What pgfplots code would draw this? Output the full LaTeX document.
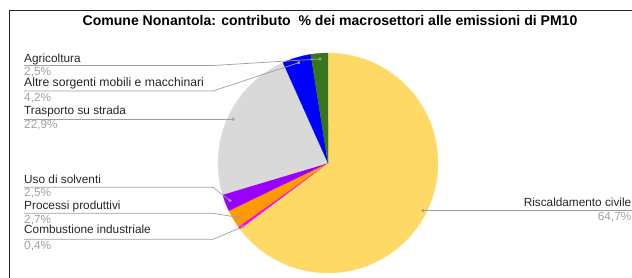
\documentclass[border=0pt]{standalone}
\usepackage{fontspec}
\setmainfont{Liberation Sans}
\usepackage{pgfplots}
\pgfplotsset{compat=1.18}
\definecolor{cYel}{HTML}{FFD966}
\definecolor{cMag}{HTML}{FF00FF}
\definecolor{cOra}{HTML}{FF9900}
\definecolor{cPur}{HTML}{9900FF}
\definecolor{cGry}{HTML}{D9D9D9}
\definecolor{cBlu}{HTML}{0000FF}
\definecolor{cGrn}{HTML}{38761D}
\definecolor{cLine}{HTML}{9E9E9E}
\definecolor{cPct}{HTML}{A0A0A0}
% values (%)
\def\vA{64.7}% Riscaldamento civile
\def\vB{0.4}%  Combustione industriale
\def\vC{2.7}%  Processi produttivi
\def\vD{2.5}%  Uso di solventi
\def\vE{22.9}% Trasporto su strada
\def\vF{4.2}%  Altre sorgenti mobili e macchinari
\def\vG{2.5}%  Agricoltura
\begin{document}
\begin{tikzpicture}
\pgfmathsetmacro\tot{\vA+\vB+\vC+\vD+\vE+\vF+\vG}
\pgfmathsetmacro\aA{90}
\pgfmathsetmacro\aB{\aA-360*(\vA/\tot)}
\pgfmathsetmacro\aC{\aB-360*(\vB/\tot)}
\pgfmathsetmacro\aD{\aC-360*(\vC/\tot)}
\pgfmathsetmacro\aE{\aD-360*(\vD/\tot)}
\pgfmathsetmacro\aF{\aE-360*(\vE/\tot)}
\pgfmathsetmacro\aG{\aF-360*(\vF/\tot)}
\pgfmathsetmacro\aH{\aG-360*(\vG/\tot)}
\begin{axis}[
  x=1pt, y=1pt, xmin=0, xmax=632, ymin=0, ymax=278,
  hide axis, clip=false, at={(0,0)}, anchor=south west,
  every axis plot/.append style={line join=round},
]
% frame
\draw[black!85, line width=0.9pt] (axis cs:9,0) -- (axis cs:9,268) -- (axis cs:632,268);
% title
\node[anchor=base, font=\fontsize{14.05}{16}\selectfont\bfseries] at (axis cs:330,252.5)
  {Comune Nonantola: contributo~ \% dei macrosettori alle emissioni di PM10};
% slices
\addplot[fill=cYel, draw=cYel, line width=0.2pt, domain=\aA:\aB, samples=120] ({328+110*cos(x)},{115+110*sin(x)}) -- (axis cs:328,115) -- cycle;
\addplot[fill=cMag, draw=cMag, line width=0.2pt, domain=\aB:\aC, samples=5] ({328+110*cos(x)},{115+110*sin(x)}) -- (axis cs:328,115) -- cycle;
\addplot[fill=cOra, draw=cOra, line width=0.2pt, domain=\aC:\aD, samples=8] ({328+110*cos(x)},{115+110*sin(x)}) -- (axis cs:328,115) -- cycle;
\addplot[fill=cPur, draw=cPur, line width=0.2pt, domain=\aD:\aE, samples=8] ({328+110*cos(x)},{115+110*sin(x)}) -- (axis cs:328,115) -- cycle;
\addplot[fill=cGry, draw=cGry, line width=0.2pt, domain=\aE:\aF, samples=50] ({328+110*cos(x)},{115+110*sin(x)}) -- (axis cs:328,115) -- cycle;
\addplot[fill=cBlu, draw=cBlu, line width=0.2pt, domain=\aF:\aG, samples=10] ({328+110*cos(x)},{115+110*sin(x)}) -- (axis cs:328,115) -- cycle;
\addplot[fill=cGrn, draw=cGrn, line width=0.2pt, domain=\aG:\aH, samples=8] ({328+110*cos(x)},{115+110*sin(x)}) -- (axis cs:328,115) -- cycle;
% leader lines
\addplot[cLine, line width=0.7pt, mark=none] coordinates {(24,212.5) (213,212.5) (320,219)};
\addplot[cLine, line width=0.7pt, mark=none] coordinates {(24,187) (213,187) (298.7,215.3)};
\addplot[cLine, line width=0.7pt, mark=none] coordinates {(24,158.7) (233,158.7)};
\addplot[cLine, line width=0.7pt, mark=none] coordinates {(24,90.7) (213,90.7) (230,77.3)};
\addplot[cLine, line width=0.7pt, mark=none] coordinates {(24,64.7) (213,64.7) (238,60.7)};
\addplot[cLine, line width=0.7pt, mark=none] coordinates {(24,38.7) (213,38.7) (243,51.3)};
\addplot[cLine, line width=0.7pt, mark=none] coordinates {(423,67.3) (632,67.3)};
% dots
\addplot[only marks, mark=*, mark size=1.4pt, cLine] coordinates {(320,219) (298.7,215.3) (233,158.7) (230,77.3) (238,60.7) (243,51.3) (423,67.3)};
% labels
\begin{scope}[every node/.style={font=\fontsize{11.8}{14}\selectfont, inner sep=0pt}]
\node[anchor=base west, text=black!85] at (axis cs:24,215.3) {Agricoltura};
\node[anchor=base west, text=cPct] at (axis cs:24,202) {2,5\%};
\node[anchor=base west, text=black!85, font=\fontsize{12.2}{14}\selectfont] at (axis cs:24,191.3) {Altre sorgenti mobili e macchinari};
\node[anchor=base west, text=cPct] at (axis cs:24,176) {4,2\%};
\node[anchor=base west, text=black!85] at (axis cs:24,163) {Trasporto su strada};
\node[anchor=base west, text=cPct] at (axis cs:24,149) {22,9\%};
\node[anchor=base west, text=black!85] at (axis cs:24,94.7) {Uso di solventi};
\node[anchor=base west, text=cPct] at (axis cs:24,81.3) {2,5\%};
\node[anchor=base west, text=black!85] at (axis cs:24,68.7) {Processi produttivi};
\node[anchor=base west, text=cPct] at (axis cs:24,54.7) {2,7\%};
\node[anchor=base west, text=black!85] at (axis cs:24,44) {Combustione industriale};
\node[anchor=base west, text=cPct] at (axis cs:24,28) {0,4\%};
\node[anchor=base east, text=black!85] at (axis cs:631.5,71.3) {Riscaldamento civile};
\node[anchor=base east, text=cPct] at (axis cs:631.5,57.3) {64,7\%};
\end{scope}
\end{axis}
\pgfresetboundingbox
\path (0,0) rectangle (632pt,278pt);
\end{tikzpicture}
\end{document}
